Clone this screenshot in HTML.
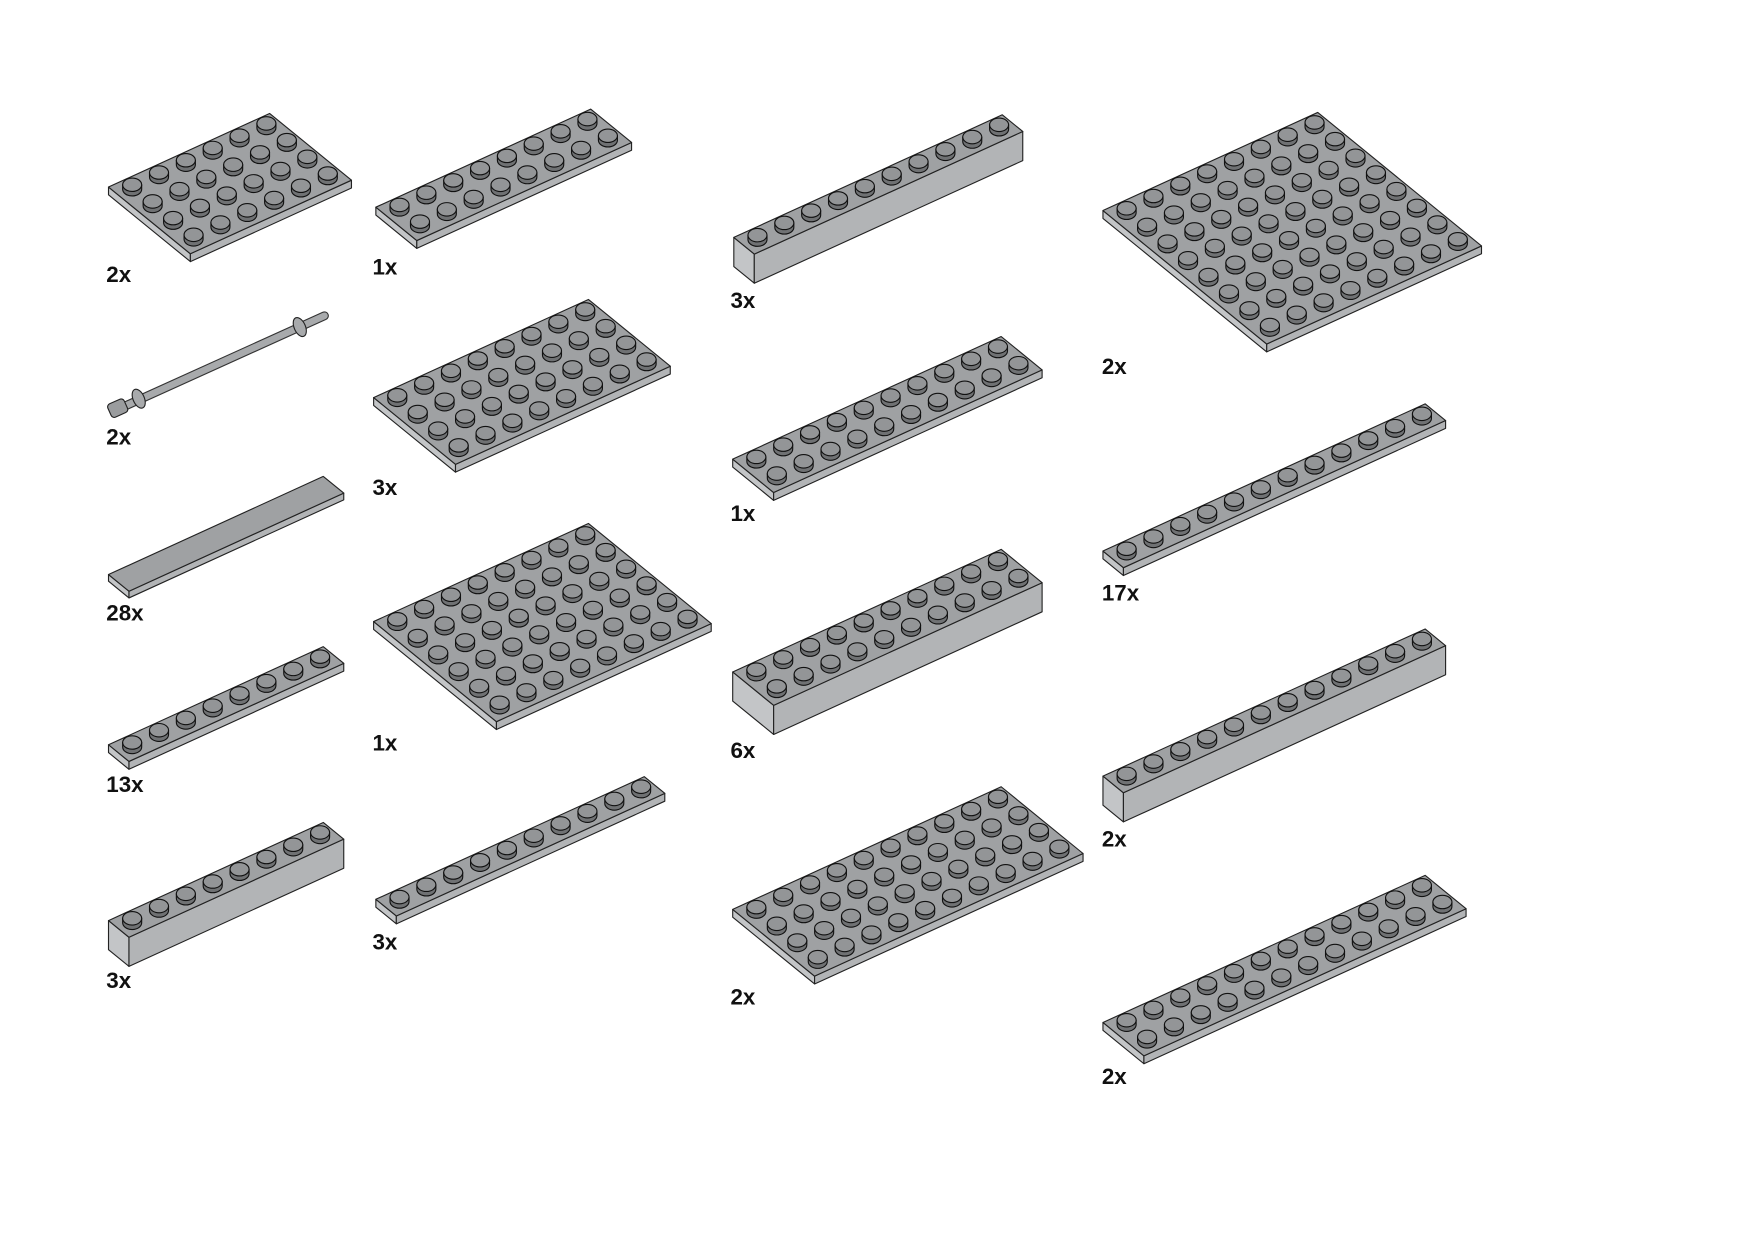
<!DOCTYPE html>
<html><head><meta charset="utf-8"><style>
html,body{margin:0;padding:0;background:#fff}
svg{display:block}
text{font-family:"Liberation Sans",sans-serif;font-weight:bold;font-size:20px;fill:#111}
</style></head><body>
<svg id="s" width="1754" height="1242" viewBox="0 0 1568 1109" preserveAspectRatio="none" xmlns="http://www.w3.org/2000/svg">
<g id="g" stroke="#222" stroke-width="1" stroke-linejoin="round"></g>
<g stroke="#222" stroke-width="1">
 <line x1="102" y1="367" x2="290" y2="282" stroke="#333" stroke-width="8" stroke-linecap="round"/>
 <line x1="102" y1="367" x2="290" y2="282" stroke="#a8aaac" stroke-width="6" stroke-linecap="round"/>
 <ellipse cx="268" cy="292" rx="5" ry="9" fill="#a8aaac" transform="rotate(-24 268 292)"/>
 <ellipse cx="124" cy="356" rx="5" ry="9" fill="#a8aaac" transform="rotate(-24 124 356)"/>
 <rect x="97" y="358" width="16" height="13" rx="3" fill="#9a9c9e" transform="rotate(-24 105 364)"/>
</g>
<g>
<text x="95" y="252">2x</text><text x="333" y="245">1x</text><text x="653" y="275">3x</text><text x="985" y="334">2x</text>
<text x="95" y="397">2x</text><text x="333" y="442">3x</text><text x="653" y="465">1x</text><text x="95" y="554">28x</text>
<text x="985" y="536">17x</text><text x="333" y="670">1x</text><text x="653" y="677">6x</text><text x="95" y="707">13x</text>
<text x="985" y="756">2x</text><text x="333" y="848">3x</text><text x="95" y="882">3x</text><text x="653" y="897">2x</text>
<text x="985" y="968">2x</text>
</g>
</svg>
<script>
var U=[24.0,-10.95],V=[18.3,14.9];
var parts=[
[97,167,6,4,7,1],[336,185,8,2,7,1],[656,212,10,1,26,1],[986,188,8,8,7,1],
[334,355,8,4,7,1],[655,410,10,2,7,1],[97,513,8,1,6,0],[334,555,8,6,7,1],
[655,600,10,2,26,1],[986,492,12,1,7,1],[97,665,8,1,7,1],[97,822,8,1,26,1],
[336,803,10,1,7,1],[655,812,10,4,7,1],[986,693,12,1,26,1],[986,913,12,2,7,1]];
var out='';
function P(a){return a.map(function(p){return p[0].toFixed(1)+','+p[1].toFixed(1)}).join(' ')}
parts.forEach(function(p){
 var x=p[0],y=p[1],n=p[2],m=p[3],h=p[4],st=p[5];
 var A=[x,y],B=[x+n*U[0],y+n*U[1]],C=[B[0]+m*V[0],B[1]+m*V[1]],D=[x+m*V[0],y+m*V[1]];
 function dn(q){return [q[0],q[1]+h]}
 out+='<polygon points="'+P([A,D,dn(D),dn(A)])+'" fill="#c3c5c7"/>';
 out+='<polygon points="'+P([D,C,dn(C),dn(D)])+'" fill="#b2b4b6"/>';
 out+='<polygon points="'+P([A,B,C,D])+'" fill="#9fa1a3"/>';
 if(st){
  for(var j=0;j<m;j++)for(var i=n-1;i>=0;i--){
   var cx=x+(i+.5)*U[0]+(j+.5)*V[0],cy=y+(i+.5)*U[1]+(j+.5)*V[1];
   var rx=8.5,ry=6,sh=4;
   out+='<path d="M'+(cx-rx)+','+(cy-sh)+' L'+(cx-rx)+','+cy+' A'+rx+','+ry+' 0 0 0 '+(cx+rx)+','+cy+' L'+(cx+rx)+','+(cy-sh)+'Z" fill="#6f7173" stroke="#111"/>';
   out+='<ellipse cx="'+cx+'" cy="'+(cy-sh)+'" rx="'+rx+'" ry="'+ry+'" fill="#939597" stroke="#111"/>';
  }
 }
});
document.getElementById('g').innerHTML=out;
</script>
</body></html>
